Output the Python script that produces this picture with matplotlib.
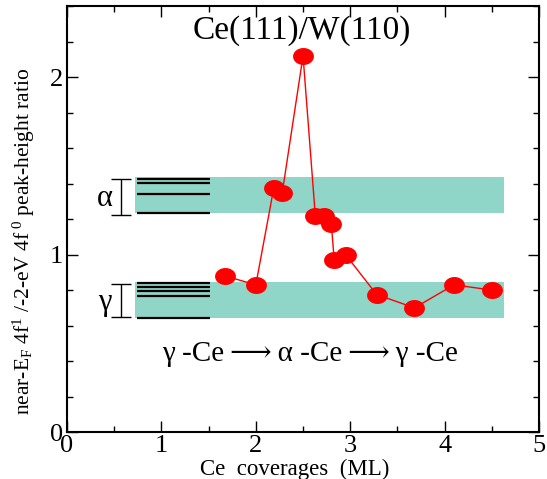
import matplotlib
matplotlib.use("Agg")
import matplotlib.pyplot as plt
from matplotlib.path import Path
from matplotlib.ticker import MultipleLocator
import numpy as np

plt.rcParams["font.family"] = ["Liberation Serif", "DejaVu Serif"]
plt.rcParams["mathtext.fontset"] = "custom"
plt.rcParams["mathtext.rm"] = "Liberation Serif"
plt.rcParams["mathtext.it"] = "Liberation Serif:italic"

# measured peak-height ratio vs Ce coverage
coverage = [1.67, 2.00, 2.19, 2.28, 2.50, 2.63, 2.72, 2.80, 2.83, 2.95, 3.28, 3.68, 4.10, 4.50]
ratio = [0.88, 0.83, 1.375, 1.35, 2.12, 1.22, 1.22, 1.17, 0.97, 1.00, 0.775, 0.70, 0.83, 0.80]

# reference bands (alpha-Ce, gamma-Ce)
band_names = ["\u03b1", "\u03b3"]
band_low = [1.236, 0.641]
band_high = [1.44, 0.848]
alpha_levels = [1.429, 1.406, 1.339, 1.232]
gamma_levels = [0.841, 0.819, 0.796, 0.766, 0.644]
err_low = [1.226, 0.650]
err_high = [1.425, 0.834]

# slightly flattened dot, as in the original
t = np.linspace(0, 2 * np.pi, 60)
ellipse = Path(np.column_stack([np.cos(t), 0.8 * np.sin(t)]), closed=True)

fig = plt.figure(figsize=(5.47, 4.79), dpi=100)
ax = fig.add_axes([0.1225, 0.098, 0.863, 0.889])

band_color = "#8fd5c8"
for lo, hi in zip(band_low, band_high):
    ax.fill_between([0.72, 4.63], lo, hi, color=band_color, lw=0, zorder=1)

for levels in (alpha_levels, gamma_levels):
    ax.hlines(levels, 0.74, 1.515, color="black", lw=1.6, zorder=2)

for name, lo, hi in zip(band_names, err_low, err_high):
    ax.errorbar([0.57], [(lo + hi) / 2], yerr=[[(hi - lo) / 2], [(hi - lo) / 2]],
                fmt="none", ecolor="black", elinewidth=1.0, capsize=7, capthick=1.0, zorder=2)
    ax.text(0.40, (lo + hi) / 2 - 0.01, name, fontsize=22, ha="center", va="center")

ax.plot(coverage, ratio, color="red", lw=1.0, marker=ellipse, ms=14,
        markerfacecolor="red", markeredgecolor="red", zorder=3)

ax.text(2.49, 2.265, "Ce(111)/W(110)", fontsize=24, ha="center", va="center")
ax.text(2.57, 0.44, "\u03b3 -Ce\u2009\u27f6\u2009\u03b1 -Ce\u2009\u27f6\u2009\u03b3 -Ce",
        fontsize=21, ha="center", va="center")

ax.set_xlim(0, 5)
ax.set_ylim(0, 2.4)
ax.xaxis.set_major_locator(MultipleLocator(1))
ax.xaxis.set_minor_locator(MultipleLocator(0.5))
ax.yaxis.set_major_locator(MultipleLocator(1))
ax.yaxis.set_minor_locator(MultipleLocator(0.2))
ax.tick_params(which="both", direction="in", top=True, right=True, labelsize=19, width=1.0)
ax.tick_params(which="major", length=8)
ax.tick_params(which="minor", length=4)
ax.tick_params(axis="x", pad=2)
ax.tick_params(axis="y", pad=3)
for sp in ax.spines.values():
    sp.set_linewidth(1.5)

ax.set_xlabel("Ce  coverages  (ML)", fontsize=16.5)
ax.xaxis.set_label_coords(0.483, -0.062)
ax.set_ylabel(r"near-E$_{\mathrm{F}}$ 4f$^{1}$ /-2-eV 4f$^{\ 0}$ peak-height ratio",
              fontsize=15.5)
ax.yaxis.set_label_coords(-0.064, 0.448)

fig.savefig("out.png", dpi=100)
plt.close(fig)
